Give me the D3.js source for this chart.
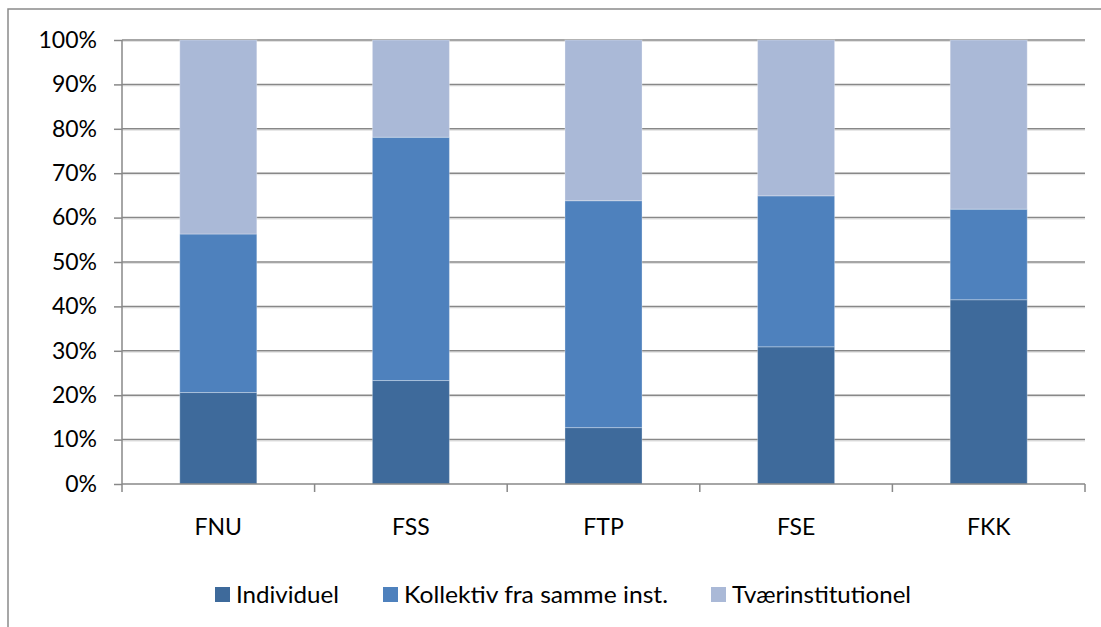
<!DOCTYPE html>
<html>
<head>
<meta charset="utf-8">
<script src="https://cdn.jsdelivr.net/npm/d3@7"></script>
<style>
  html, body { margin: 0; padding: 0; background: #fff; }
  svg { display: block; }
  text { font-family: Lato, "Open Sans", sans-serif; fill: #000; }
</style>
</head>
<body>
<svg id="chart" width="1101" height="627"></svg>
<script>
// ---- data ----
const categories = ["FNU", "FSS", "FTP", "FSE", "FKK"];
const seriesNames = ["Individuel", "Kollektiv fra samme inst.", "Tværinstitutionel"];
const individuel = [20.6, 23.3, 12.7, 30.9, 41.5];
const kollektiv = [35.7, 54.8, 51.1, 34.0, 20.4];
const tvaer = [43.7, 21.9, 36.2, 35.1, 38.1];
const yTicks = [0, 10, 20, 30, 40, 50, 60, 70, 80, 90, 100];
const colors = ["#3E6A9B", "#4E81BD", "#AAB9D7"];

const rows = categories.map((c, i) => ({
  cat: c,
  "Individuel": individuel[i],
  "Kollektiv fra samme inst.": kollektiv[i],
  "Tværinstitutionel": tvaer[i]
}));

const svg = d3.select("#chart");

// outer chart border
svg.append("rect")
  .attr("x", 8).attr("y", 9)
  .attr("width", 1200).attr("height", 700)
  .attr("fill", "none").attr("stroke", "#8a8a8a").attr("stroke-width", 1.5);

const pLeft = 122, pRight = 1085, pTop = 40, pBottom = 484;
const fs = 23;

const x = d3.scaleBand().domain(categories).range([pLeft, pRight]).paddingInner(0.6).paddingOuter(0.3);
const xBand = d3.scaleBand().domain(categories).range([pLeft, pRight]);
const y = d3.scaleLinear().domain([0, 100]).range([pBottom, pTop]);

// gridlines
const grid = svg.append("g");
yTicks.filter(t => t > 0).forEach(t => {
  grid.append("line")
    .attr("x1", pLeft).attr("x2", pRight)
    .attr("y1", y(t) + 1.5).attr("y2", y(t) + 1.5)
    .attr("stroke", "#e2e2e2").attr("stroke-width", 1);
  grid.append("line")
    .attr("x1", pLeft).attr("x2", pRight)
    .attr("y1", y(t)).attr("y2", y(t))
    .attr("stroke", "#888").attr("stroke-width", 1.5);
});

// stacked bars
const stack = d3.stack().keys(seriesNames);
const stacked = stack(rows);
const barsG = svg.append("g");
stacked.forEach((layer, li) => {
  barsG.selectAll(null).data(layer).enter().append("rect")
    .attr("x", d => x(d.data.cat))
    .attr("width", x.bandwidth())
    .attr("y", d => y(d[1]))
    .attr("height", d => y(d[0]) - y(d[1]))
    .attr("fill", colors[li])
    .attr("stroke", "rgba(255,255,255,0.3)")
    .attr("stroke-width", 1);
});

// y axis
const yAxis = d3.axisLeft(y).tickValues(yTicks).tickFormat(d => d + "%").tickSize(8).tickPadding(17);
const yg = svg.append("g").attr("transform", `translate(${pLeft},0)`).call(yAxis);
yg.select(".domain").attr("stroke", "#888").attr("stroke-width", 1.5).attr("d", `M0,${pTop}V${pBottom}`);
yg.selectAll(".tick line").attr("stroke", "#888").attr("stroke-width", 1.5);
yg.selectAll(".tick text").attr("font-size", fs).attr("font-family", "Lato, sans-serif").attr("fill", "#000");

// x axis
const xg = svg.append("g").attr("transform", `translate(0,${pBottom})`);
xg.append("line").attr("x1", pLeft).attr("x2", pRight).attr("y1", 0).attr("y2", 0)
  .attr("stroke", "#888").attr("stroke-width", 1.5);
const boundaries = categories.map(c => xBand(c)).concat([pRight]);
xg.selectAll("line.tk").data(boundaries).enter().append("line")
  .attr("class", "tk")
  .attr("x1", d => d).attr("x2", d => d).attr("y1", 0).attr("y2", 8)
  .attr("stroke", "#888").attr("stroke-width", 1.5);
xg.selectAll("text").data(categories).enter().append("text")
  .attr("x", d => xBand(d) + xBand.bandwidth() / 2)
  .attr("y", 51)
  .attr("text-anchor", "middle")
  .attr("font-size", fs)
  .text(d => d);

// legend
const legendItems = [
  { name: seriesNames[0], sx: 215, tx: 236, tw: 103 },
  { name: seriesNames[1], sx: 383, tx: 404, tw: 264 },
  { name: seriesNames[2], sx: 711, tx: 732, tw: 179 }
];
const lg = svg.append("g");
legendItems.forEach((it, i) => {
  lg.append("rect").attr("x", it.sx).attr("y", 587).attr("width", 15).attr("height", 15).attr("fill", colors[i]);
  lg.append("text").attr("x", it.tx).attr("y", 603).attr("font-size", fs)
    .attr("textLength", it.tw).attr("lengthAdjust", "spacingAndGlyphs")
    .text(it.name);
});
</script>
</body>
</html>
